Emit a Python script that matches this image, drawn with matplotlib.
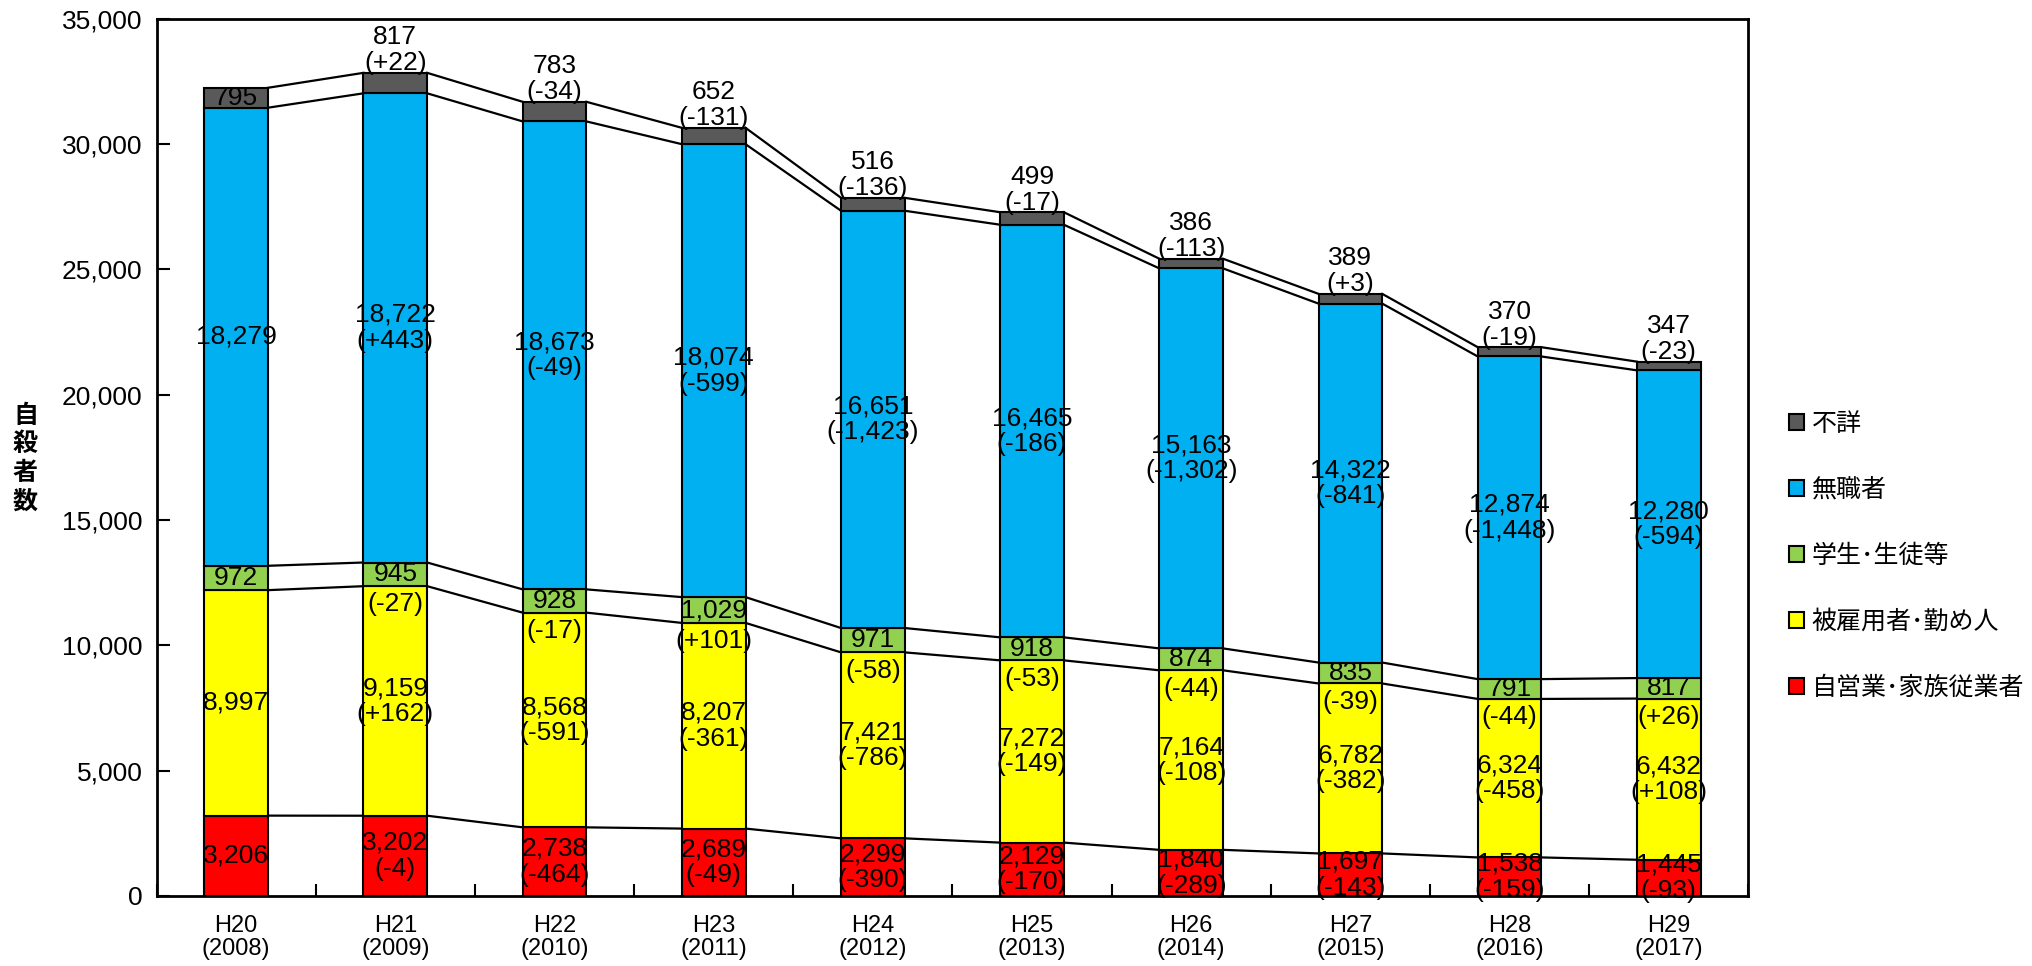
import matplotlib
matplotlib.use("Agg")
import matplotlib.pyplot as plt
from matplotlib.patches import Patch
import numpy as np

plt.rcParams["font.family"] = ["Liberation Sans", "Noto Sans CJK JP"]

years = ["H20\n(2008)", "H21\n(2009)", "H22\n(2010)", "H23\n(2011)", "H24\n(2012)",
         "H25\n(2013)", "H26\n(2014)", "H27\n(2015)", "H28\n(2016)", "H29\n(2017)"]

self_employed = [3206, 3202, 2738, 2689, 2299, 2129, 1840, 1697, 1538, 1445]
employed = [8997, 9159, 8568, 8207, 7421, 7272, 7164, 6782, 6324, 6432]
students = [972, 945, 928, 1029, 971, 918, 874, 835, 791, 817]
unemployed = [18279, 18722, 18673, 18074, 16651, 16465, 15163, 14322, 12874, 12280]
unknown = [795, 817, 783, 652, 516, 499, 386, 389, 370, 347]

series = [self_employed, employed, students, unemployed, unknown]
names = ["自営業･家族従業者", "被雇用者･勤め人", "学生･生徒等", "無職者", "不詳"]
colors = ["#FF0000", "#FFFF00", "#92D050", "#00B0F0", "#595959"]

FS = 19
fig = plt.figure(figsize=(20.33, 9.66), dpi=100)
ax = fig.add_axes([0.077, 0.0725, 0.783, 0.908])

x = np.arange(len(years))
w = 0.4
bottom = np.zeros(len(years))
tops = []
for vals, c in zip(series, colors):
    ax.bar(x, vals, w, bottom=bottom, color=c, edgecolor="black", linewidth=1.5, zorder=3)
    bottom = bottom + np.array(vals)
    tops.append(bottom.copy())

# series lines between bars
for t in tops:
    for i in range(len(x) - 1):
        ax.plot([x[i] + w / 2, x[i + 1] - w / 2], [t[i], t[i + 1]], color="black", lw=1.6, zorder=2)


def chg(vals, i):
    d = vals[i] - vals[i - 1]
    return f"({d:+,d})"


bases = [np.zeros(len(x))] + tops[:-1]
for i in range(len(x)):
    # red, yellow, blue: centered
    for k in (0, 1, 3):
        mid = bases[k][i] + series[k][i] / 2
        txt = f"{series[k][i]:,d}" if i == 0 else f"{series[k][i]:,d}\n{chg(series[k], i)}"
        ax.text(x[i], mid, txt, ha="center", va="center", fontsize=FS, zorder=5, linespacing=1.1)
    # green
    gmid = bases[2][i] + students[i] / 2
    ax.text(x[i], gmid, f"{students[i]:,d}", ha="center", va="center", fontsize=FS, zorder=5)
    if i > 0:
        ax.text(x[i], bases[2][i] - 250, chg(students, i), ha="center", va="top", fontsize=FS, zorder=5)
    # gray
    if i == 0:
        ax.text(x[i], bases[4][i] + unknown[i] / 2, f"{unknown[i]:,d}", ha="center", va="center",
                fontsize=FS, zorder=5)
    else:
        ax.text(x[i], tops[4][i] - 100, f"{unknown[i]:,d}\n{chg(unknown, i)}", ha="center", va="bottom",
                fontsize=FS, zorder=5, linespacing=1.1)

ax.set_xlim(-0.5, len(x) - 0.5)
ax.set_ylim(0, 35000)
ax.set_yticks(range(0, 35001, 5000))
ax.set_yticklabels([f"{v:,d}" for v in range(0, 35001, 5000)], fontsize=FS)
ax.set_xticks(x)
ax.set_xticklabels(years, fontsize=17, linespacing=1.05)
ax.set_xticks(np.arange(-0.5, len(x), 1), minor=True)
ax.tick_params(axis="x", which="major", length=0, pad=14)
ax.tick_params(axis="x", which="minor", direction="in", length=9, width=1.5)
ax.tick_params(axis="y", direction="in", length=9, width=1.5, pad=10)
for s in ax.spines.values():
    s.set_linewidth(2)

fig.text(0.0125, 0.525, "自\n殺\n者\n数", ha="center", va="center", fontsize=18, fontweight="bold",
         family="Noto Sans CJK JP", linespacing=1.25)

handles = [Patch(facecolor=c, edgecolor="black", linewidth=1.5) for c in colors][::-1]
leg = fig.legend(handles, names[::-1], loc="center left", bbox_to_anchor=(0.869, 0.4245),
                 frameon=False, prop={"family": "Noto Sans CJK JP", "size": 18},
                 handlelength=0.6, handleheight=0.6, handletextpad=0.3, labelspacing=1.6)

fig.savefig("out.png", dpi=100)
